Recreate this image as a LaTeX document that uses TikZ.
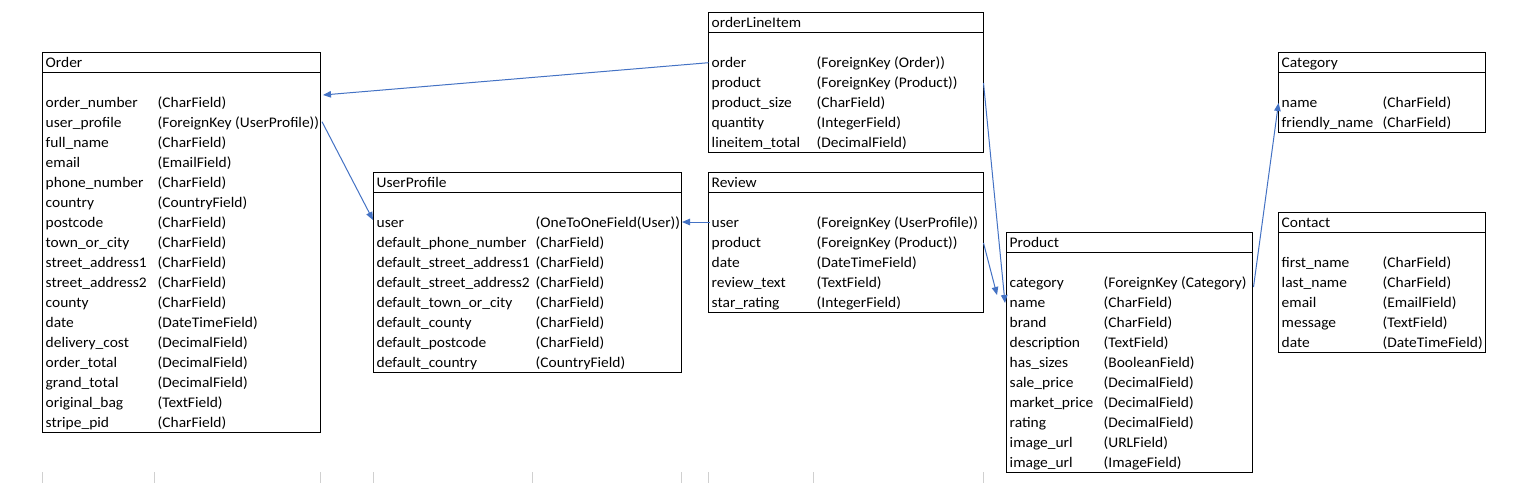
\documentclass[tikz,border=0pt]{standalone}
\usepackage{fontspec}
\setmainfont[FakeStretch=1.055]{Carlito}
\usetikzlibrary{arrows.meta}
\definecolor{linkblue}{HTML}{4472C4}
\definecolor{gridgray}{HTML}{D0D0D0}
\newcommand\tabfont{\fontsize{14.67}{17}\selectfont}
% #1 name, #2 left, #3 right, #4 value column, #5 top, #6 number of fields, #7 title, #8 fields
\newcommand\dbtable[8]{%
  \draw[boxline] (#2,#5) rectangle (#3,{#5+20*(#6+2)});
  \draw[boxline] (#2,{#5+20}) -- (#3,{#5+20});
  \node[celltext] (#1-title) at ({#2+3},{#5+15}) {#7};
  \foreach \f/\v [count=\i] in {#8} {
    \node[celltext] (#1-f\i) at ({#2+3},{#5+20*(\i+2)-5}) {\f};
    \node[celltext] (#1-v\i) at ({#4+3},{#5+20*(\i+2)-5}) {\v};
  }%
}
\begin{document}
\begin{tikzpicture}[x=1pt,y=-1pt,
  boxline/.style={draw=black,line width=1pt},
  celltext/.style={anchor=base west,inner sep=0pt,font=\tabfont,text=black},
  link/.style={draw=linkblue,line width=1pt,-{Triangle[length=8pt,width=6.5pt]}},
  gridstub/.style={draw=gridgray,line width=1pt}]
\fill[white] (0,0) rectangle (1514,483);
\useasboundingbox (0,0) rectangle (1514,483);

% faint spreadsheet grid stubs at the bottom
\foreach \gx in {42.5,154.5,320.5,373.5,532.5,681.5,708.5,813.5,983.5} {
  \draw[gridstub] (\gx,472) -- (\gx,483);
}

\dbtable{order}{42.5}{320.5}{154.5}{52}{17}{Order}{
  {order\_number}/{(CharField)},
  {user\_profile}/{(ForeignKey (UserProfile))},
  {full\_name}/{(CharField)},
  {email}/{(EmailField)},
  {phone\_number}/{(CharField)},
  {country}/{(CountryField)},
  {postcode}/{(CharField)},
  {town\_or\_city}/{(CharField)},
  {street\_address1}/{(CharField)},
  {street\_address2}/{(CharField)},
  {county}/{(CharField)},
  {date}/{(DateTimeField)},
  {delivery\_cost}/{(DecimalField)},
  {order\_total}/{(DecimalField)},
  {grand\_total}/{(DecimalField)},
  {original\_bag}/{(TextField)},
  {stripe\_pid}/{(CharField)}}

\dbtable{userprofile}{373.5}{681.5}{532.5}{172}{8}{UserProfile}{
  {user}/{(OneToOneField(User))},
  {default\_phone\_number}/{(CharField)},
  {default\_street\_address1}/{(CharField)},
  {default\_street\_address2}/{(CharField)},
  {default\_town\_or\_city}/{(CharField)},
  {default\_county}/{(CharField)},
  {default\_postcode}/{(CharField)},
  {default\_country}/{(CountryField)}}

\dbtable{lineitem}{708.5}{983.5}{813.5}{12}{5}{orderLineItem}{
  {order}/{(ForeignKey (Order))},
  {product}/{(ForeignKey (Product))},
  {product\_size}/{(CharField)},
  {quantity}/{(IntegerField)},
  {lineitem\_total}/{(DecimalField)}}

\dbtable{review}{708.5}{983.5}{813.5}{172}{5}{Review}{
  {user}/{(ForeignKey (UserProfile))},
  {product}/{(ForeignKey (Product))},
  {date}/{(DateTimeField)},
  {review\_text}/{(TextField)},
  {star\_rating}/{(IntegerField)}}

\dbtable{product}{1006.5}{1252.5}{1100.5}{232}{10}{Product}{
  {category}/{(ForeignKey (Category)},
  {name}/{(CharField)},
  {brand}/{(CharField)},
  {description}/{(TextField)},
  {has\_sizes}/{(BooleanField)},
  {sale\_price}/{(DecimalField)},
  {market\_price}/{(DecimalField)},
  {rating}/{(DecimalField)},
  {image\_url}/{(URLField)},
  {image\_url}/{(ImageField)}}

\dbtable{category}{1278.5}{1485.5}{1379.5}{52}{2}{Category}{
  {name}/{(CharField)},
  {friendly\_name}/{(CharField)}}

\dbtable{contact}{1278.5}{1485.5}{1379.5}{212}{5}{Contact}{
  {first\_name}/{(CharField)},
  {last\_name}/{(CharField)},
  {email}/{(EmailField)},
  {message}/{(TextField)},
  {date}/{(DateTimeField)}}

% connector end points
\coordinate (li-order-out) at (708.5,62.7);
\coordinate (order-in) at (323,95);
\coordinate (order-up-out) at (322,121.7);
\coordinate (up-in-left) at (373,220);
\coordinate (rv-user-out) at (710,222);
\coordinate (up-in-right) at (682,222);
\coordinate (li-prod-out) at (983.5,83);
\coordinate (prod-in-a) at (1005,303);
\coordinate (rv-prod-out) at (983.5,243);
\coordinate (prod-in-b) at (997,295);
\coordinate (prod-cat-out) at (1253.5,287);
\coordinate (cat-in) at (1278.5,103);

\draw[link] (li-order-out) -- (order-in);
\draw[link] (order-up-out) -- (up-in-left);
\draw[link] (rv-user-out) -- (up-in-right);
\draw[link] (li-prod-out) -- (prod-in-a);
\draw[link] (rv-prod-out) -- (prod-in-b);
\draw[link] (prod-cat-out) -- (cat-in);
\end{tikzpicture}
\end{document}
